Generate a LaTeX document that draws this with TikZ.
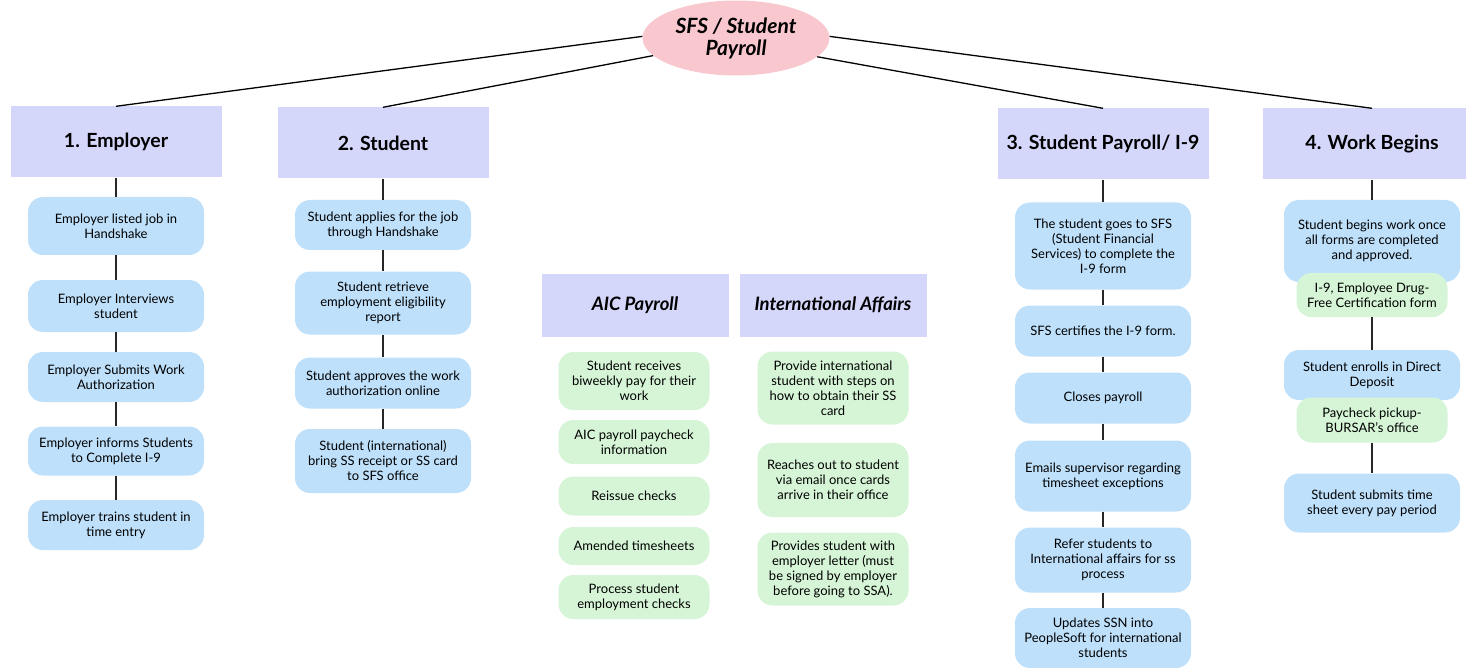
\documentclass[tikz,border=0pt]{standalone}
\usepackage{fontspec}
\setmainfont{Lato}
\usetikzlibrary{shapes.geometric}

\definecolor{headfill}{HTML}{D4D6FA}
\definecolor{stepblue}{HTML}{BEE0FB}
\definecolor{notegreen}{HTML}{D6F5D7}
\definecolor{rootpink}{HTML}{F8C8CE}

\begin{document}
\begin{tikzpicture}[x=1pt,y=-1pt,
    root/.style={ellipse, fill=rootpink, minimum width=187pt, minimum height=75pt,
      align=center, inner sep=0pt, font=\fontsize{21}{22}\selectfont\bfseries\itshape},
    head/.style={fill=headfill, minimum width=211pt, minimum height=71pt,
      font=\fontsize{19.5}{22}\selectfont\bfseries},
    subhead/.style={fill=headfill, minimum width=187pt, minimum height=63pt,
      font=\fontsize{18.5}{20}\selectfont\bfseries\itshape},
    stepbox/.style={fill=stepblue, rounded corners=15pt, align=center,
      minimum width=176pt, inner sep=2pt, font=\fontsize{13}{15}\selectfont},
    notebox/.style={stepbox, fill=notegreen, minimum width=151pt},
    link/.style={line width=1.4pt, draw=black!85}]
  \useasboundingbox (0,0) rectangle (1466,668);

  % --- root and the four stages ---
  \node[root] (sfs) at (736,38) {SFS / Student\\Payroll};
  \node[head] (emp) at (116,142) {1. Employer};
  \node[head] (stu) at (383,143) {2. Student};
  \node[head] (pay) at (1103,144) {3. Student Payroll/ I-9};
  \node[head, minimum width=218pt] (work) at (1372,144) {4. Work Begins};
  \draw[line width=1.3pt] (sfs.179) -- (emp.north);
  \draw[line width=1.3pt] (sfs.192) -- (stu.north);
  \draw[line width=1.3pt] (sfs.1) -- (work.north);
  \draw[line width=1.3pt] (sfs.347) -- (pay.north);

  % --- 1. Employer ---
  \foreach \n/\y/\h/\t in {%
      1/226/58/{Employer listed job in\\Handshake},
      2/306/52/{Employer Interviews\\student},
      3/377/50/{Employer Submits Work\\Authorization},
      4/451/49/{Employer informs Students\\to Complete I-9},
      5/525/50/{Employer trains student in\\time entry}}{
    \node[stepbox, minimum height=\h pt] (E\n) at (116,\y) {\t};
  }
  \draw[link] (emp) -- (E1) -- (E2) -- (E3) -- (E4) -- (E5);

  % --- 2. Student ---
  \foreach \n/\y/\h/\t in {%
      1/225/50/{Student applies for the job\\through Handshake},
      2/303/63/{Student retrieve\\employment eligibility\\report},
      3/383/51/{Student approves the work\\authorization online},
      4/461/64/{Student (international)\\bring SS receipt or SS card\\to SFS office}}{
    \node[stepbox, minimum height=\h pt] (S\n) at (383,\y) {\t};
  }
  \draw[link] (stu) -- (S1) -- (S2) -- (S3) -- (S4);

  % --- AIC payroll and international affairs ---
  \node[subhead] (aic) at (635,305) {AIC Payroll};
  \node[subhead] (intl) at (833,305) {International Affairs};
  \foreach \n/\y/\h/\t in {%
      1/381/58/{Student receives\\biweekly pay for their\\work},
      2/442/44/{AIC payroll paycheck\\information},
      3/496/39/{Reissue checks},
      4/546/38/{Amended timesheets},
      5/597/44/{Process student\\employment checks}}{
    \node[notebox, minimum height=\h pt] (A\n) at (634,\y) {\t};
  }
  \foreach \n/\y/\h/\t in {%
      1/388/73/{Provide international\\student with steps on\\how to obtain their SS\\card},
      2/480/74/{Reaches out to student\\via email once cards\\arrive in their office},
      3/569/73/{Provides student with\\employer letter (must\\be signed by employer\\before going to SSA).}}{
    \node[notebox, minimum height=\h pt] (I\n) at (833,\y) {\t};
  }

  % --- 3. Student Payroll / I-9 ---
  \foreach \n/\y/\h/\t in {%
      1/246/87/{The student goes to SFS\\(Student Financial\\Services) to complete the\\I-9 form},
      2/331/51/{SFS certifies the I-9 form.},
      3/398/51/{Closes payroll},
      4/476/71/{Emails supervisor regarding\\timesheet exceptions},
      5/560/65/{Refer students to\\International affairs for ss\\process},
      6/638/60/{Updates SSN into\\PeopleSoft for international\\students}}{
    \node[stepbox, minimum height=\h pt] (P\n) at (1103,\y) {\t};
  }
  \draw[link] (pay) -- (P1) -- (P2) -- (P3) -- (P4) -- (P5) -- (P6);

  % --- 4. Work begins ---
  \node[stepbox, minimum height=82pt] (W1) at (1372,241)
    {Student begins work once\\all forms are completed\\and approved.};
  \node[notebox, minimum height=44pt] (W2) at (1372,295) {I-9, Employee Drug-\\Free Certification form};
  \node[stepbox, minimum height=50pt] (W3) at (1372,375) {Student enrolls in Direct\\Deposit};
  \node[notebox, minimum height=45pt] (W4) at (1372,420) {Paycheck pickup-\\BURSAR's office};
  \node[stepbox, minimum height=59pt] (W5) at (1372,503) {Student submits time\\sheet every pay period};
  \draw[link] (work) -- (W1);
  \draw[link, line width=1.8pt] (W2) -- (W3);
  \draw[link, line width=1.8pt] (W4) -- (W5);
\end{tikzpicture}
\end{document}
